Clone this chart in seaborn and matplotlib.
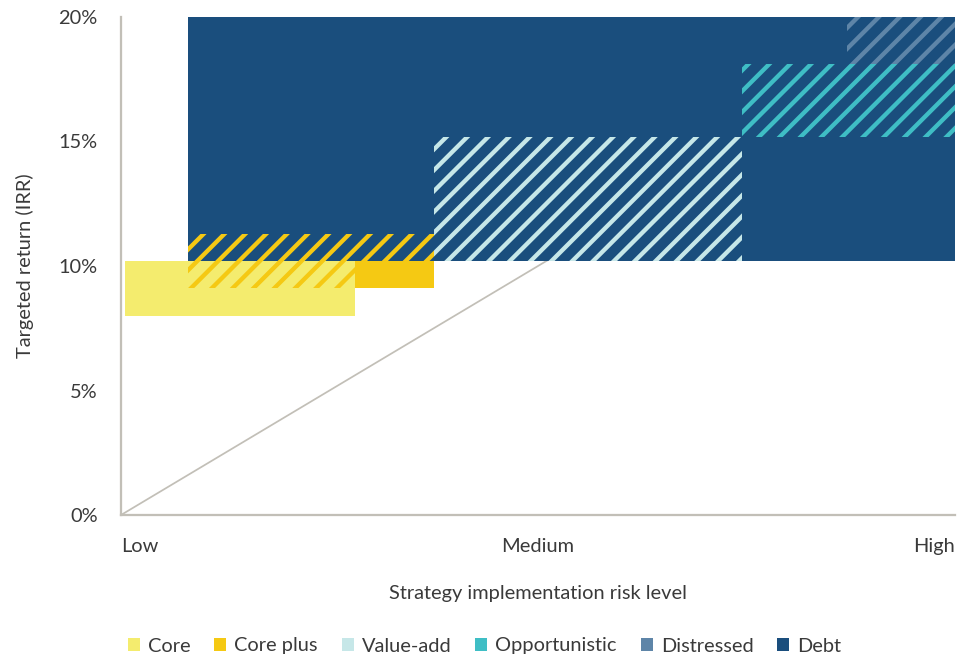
import numpy as np
import pandas as pd
import matplotlib
matplotlib.use('Agg')
import matplotlib.pyplot as plt
import seaborn as sns
from matplotlib.patches import Patch

# Strategy boxes: risk level (0 = Low, 10 = High) and targeted IRR (%)
strategies = ['Core', 'Core plus', 'Value-add', 'Opportunistic', 'Distressed', 'Debt']
risk_low = [0.05, 0.8, 3.75, 7.45, 8.7, 0.8]
risk_high = [2.8, 3.75, 7.45, 10.0, 10.0, 10.0]
irr_low = [8.0, 9.1, 10.2, 15.2, 18.1, 10.2]
irr_high = [10.2, 11.3, 15.2, 18.1, 20.0, 20.0]

# risk/return reference line
line_risk = [0, 10]
line_irr = [0, 20]

x_ticks = [0, 5, 10]
x_tick_labels = ['Low', 'Medium', 'High']
y_ticks = [0, 5, 10, 15, 20]

colors = {
    'Core': '#f4ec6e',
    'Core plus': '#f5c913',
    'Value-add': '#c6e7e8',
    'Opportunistic': '#3fbec5',
    'Distressed': '#5e85a8',
    'Debt': '#1a4e7d',
}

boxes = pd.DataFrame({
    'strategy': strategies,
    'x0': risk_low,
    'x1': risk_high,
    'y0': irr_low,
    'y1': irr_high,
}).set_index('strategy')

sns.set_theme(style='white')
plt.rcParams['font.family'] = ['Lato', 'DejaVu Sans']
plt.rcParams['hatch.linewidth'] = 2.5
text_color = '#3a3a3a'
spine_color = '#c2bfb7'

DPI = 125
fig = plt.figure(figsize=(969 / DPI, 658 / DPI), dpi=DPI)
ax = fig.add_axes([121 / 969, 1 - 515 / 658, (955 - 121) / 969, (515 - 17) / 658])

line_df = pd.DataFrame({'risk': line_risk, 'irr': line_irr})
sns.lineplot(data=line_df, x='risk', y='irr', ax=ax, color=spine_color, linewidth=1.0, zorder=0)


def draw_box(name, solid, z):
    b = boxes.loc[name]
    if solid:
        ax.bar(b.x0, b.y1 - b.y0, width=b.x1 - b.x0, bottom=b.y0, align='edge',
               color=colors[name], linewidth=0, zorder=z)
    else:
        ax.bar(b.x0, b.y1 - b.y0, width=b.x1 - b.x0, bottom=b.y0, align='edge',
               color='none', edgecolor=colors[name], hatch='//', linewidth=0, zorder=z)


# solid fills first, hatched overlays on top
draw_box('Core plus', True, 1)
draw_box('Core', True, 2)
draw_box('Debt', True, 3)
draw_box('Core plus', False, 4)
draw_box('Value-add', False, 4)
draw_box('Opportunistic', False, 4)
draw_box('Distressed', False, 4)

ax.set_xlim(0, 10)
ax.set_ylim(0, 20)
ax.set_xticks(x_ticks)
ax.set_xticklabels(x_tick_labels)
for lab, ha in zip(ax.get_xticklabels(), ['left', 'center', 'right']):
    lab.set_horizontalalignment(ha)
ax.set_yticks(y_ticks)
ax.set_yticklabels([f'{v}%' for v in y_ticks])
ax.tick_params(axis='both', length=0, labelsize=11.5, labelcolor=text_color)
ax.tick_params(axis='y', pad=13.5)
ax.tick_params(axis='x', pad=13)

ax.set_xlabel('Strategy implementation risk level', fontsize=11.5, color=text_color)
ax.set_ylabel('Targeted return (IRR)', fontsize=11.5, color=text_color)
ax.xaxis.set_label_coords(0.5, -0.14)
ax.yaxis.set_label_coords(-0.104, 0.5)

sns.despine(ax=ax)
for s in ['left', 'bottom']:
    ax.spines[s].set_color(spine_color)
    ax.spines[s].set_linewidth(1.3)

handles = [Patch(facecolor=colors[s], edgecolor='none') for s in strategies]
fig.legend(handles, strategies, loc='center', bbox_to_anchor=(0.5, 1 - 646 / 658),
           ncol=6, frameon=False, fontsize=11.5, handlelength=0.6, handleheight=0.6,
           handletextpad=0.4, columnspacing=1.2, labelcolor=text_color)

fig.savefig('out.png', dpi=DPI)
